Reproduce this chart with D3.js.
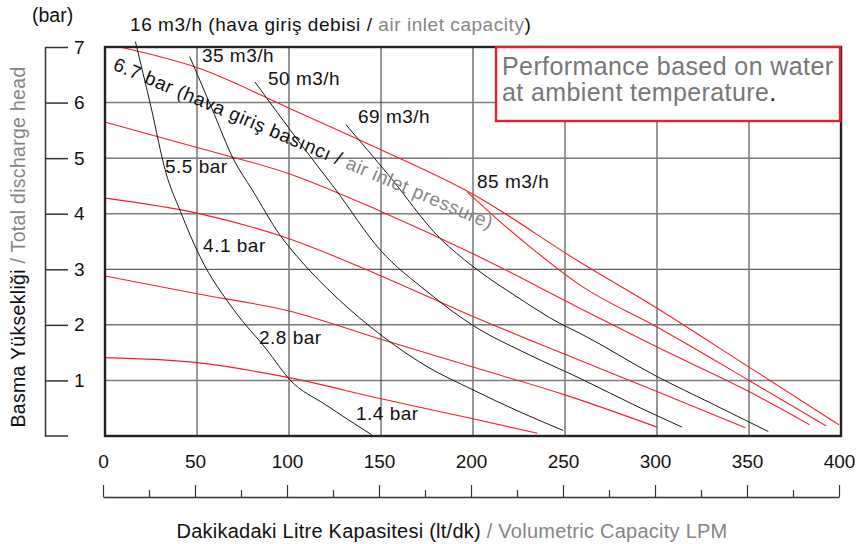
<!DOCTYPE html>
<html>
<head>
<meta charset="utf-8">
<script src="https://cdn.jsdelivr.net/npm/d3@7"></script>
<style>
  body { margin: 0; background: #fff; }
  svg { font-family: "Liberation Sans", Arial, sans-serif; }
</style>
</head>
<body>
<svg id="chart" width="860" height="544"></svg>
<script>
// axis ticks
const flowTicks = [0, 50, 100, 150, 200, 250, 300, 350, 400];
const flowMinor = [25, 75, 125, 175, 225, 275, 325, 375];
const headTicks = [0, 1, 2, 3, 4, 5, 6, 7];

// air inlet pressure curves (lpm, bar)
const p67 = [[8, 7.0], [50, 6.63], [100, 5.9], [150, 5.15], [200, 4.35], [258, 3.13], [300, 2.3], [350, 1.24], [399, 0.2]];
const p55 = [[0, 5.65], [50, 5.19], [100, 4.72], [150, 4.04], [200, 3.28], [258, 2.3], [300, 1.6], [350, 0.8], [383, 0.2]];
const p41 = [[0, 4.28], [50, 4.01], [100, 3.55], [150, 2.88], [200, 2.15], [250, 1.47], [300, 0.8], [348, 0.15]];
const p28 = [[0, 2.88], [50, 2.56], [100, 2.25], [150, 1.74], [200, 1.24], [250, 0.74], [300, 0.16]];
const p14 = [[0, 1.41], [50, 1.32], [100, 1.05], [150, 0.67], [200, 0.31], [235, 0.05]];

// air consumption curves (lpm, bar)
const a16 = [[16.5, 7.1], [25, 5.92], [33, 4.75], [41, 4.04], [51.6, 3.23], [70, 2.27], [88, 1.55], [100.5, 1.01], [120, 0.56], [145, 0.02]];
const a35 = [[46, 6.83], [58, 5.9], [70, 4.97], [80, 4.43], [95, 3.62], [106, 3.17], [125, 2.52], [151, 1.79], [175, 1.25], [200, 0.83], [225, 0.44], [249, 0.1]];
const a50 = [[81.5, 6.37], [106, 5.27], [125, 4.45], [149.5, 3.35], [175, 2.6], [199.5, 2.0], [230, 1.47], [258, 1.04], [290, 0.52], [313.6, 0.16]];
const a69 = [[131, 5.6], [154, 4.7], [182, 3.56], [200, 3.05], [225, 2.48], [247, 2.03], [258, 1.85], [300, 1.07], [330, 0.58], [360.5, 0.08]];
const a85 = [[197, 4.39], [215, 3.85], [233, 3.35], [258, 2.72], [300, 1.96], [350, 1.0], [392, 0.18]];

// label anchors (lpm, bar)
const barLabels = [["5.5 bar", 32.6, 4.73], ["4.1 bar", 53.3, 3.31], ["2.8 bar", 83.7, 1.66], ["1.4 bar", 136.4, 0.29]];
const flowLabels = [["35 m3/h", 52.7, 6.73], ["50 m3/h", 88.6, 6.31], ["69 m3/h", 137.5, 5.63], ["85 m3/h", 202.2, 4.46]];

const svg = d3.select("#chart");
const x = d3.scaleLinear().domain([0, 400]).range([105, 841]);
const y = d3.scaleLinear().domain([0, 7]).range([436, 47]);
const xb = d3.scaleLinear().domain([0, 400]).range([103, 839]);

const grey = "#7d7d7d";
const textGrey = "#858585";
const red = "#f0202a";

// grid
const darkH = [2, 3, 5];
svg.append("g").selectAll("line").data(headTicks.slice(1, 7)).enter().append("line")
  .attr("x1", x(0)).attr("x2", x(400))
  .attr("y1", d => y(d)).attr("y2", d => y(d))
  .attr("stroke", d => darkH.includes(d) ? "#333" : grey)
  .attr("stroke-width", d => darkH.includes(d) ? 1 : 1.6);
svg.append("g").selectAll("line").data(flowTicks.slice(1, 8)).enter().append("line")
  .attr("x1", d => x(d)).attr("x2", d => x(d))
  .attr("y1", y(0)).attr("y2", y(7))
  .attr("stroke", d => d == 150 ? "#333" : grey)
  .attr("stroke-width", d => d == 150 ? 1 : 1.6);

// curves
const line = d3.line().x(d => x(d[0])).y(d => y(d[1])).curve(d3.curveMonotoneX);
const curves = svg.append("g").attr("fill", "none");
[p67, p55, p41, p28, p14, a85].forEach(c => {
  curves.append("path").attr("d", line(c)).attr("stroke", red).attr("stroke-width", 1.1);
});
[a16, a35, a50, a69].forEach(c => {
  curves.append("path").attr("d", line(c)).attr("stroke", "#1a1a1a").attr("stroke-width", 1);
});

// frame
svg.append("rect")
  .attr("x", x(0)).attr("y", y(7))
  .attr("width", x(400) - x(0)).attr("height", y(0) - y(7))
  .attr("fill", "none").attr("stroke", "#222").attr("stroke-width", 2.4);

// note box
svg.append("rect")
  .attr("x", 496).attr("y", 47).attr("width", 344).attr("height", 74)
  .attr("fill", "#fff").attr("stroke", "#e3202b").attr("stroke-width", 2.4);
svg.append("text").attr("x", 502).attr("y", 75).attr("font-size", 25).attr("letter-spacing", 0.4).attr("fill", "#777")
  .text("Performance based on water");
svg.append("text").attr("x", 502).attr("y", 101).attr("font-size", 25).attr("letter-spacing", 0.4).attr("fill", "#777")
  .text("at ambient temperature")
  .append("tspan").attr("fill", "#222").text(".");

// left axis
const yAxis = svg.append("g").attr("transform", "translate(45,0)")
  .call(d3.axisRight(y).tickValues(headTicks.slice(1)).tickFormat(d3.format("d"))
    .tickSize(23).tickSizeOuter(0).tickPadding(6));
yAxis.select(".domain").attr("stroke", "#333").attr("stroke-width", 1.5);
yAxis.selectAll(".tick line").attr("stroke", "#333").attr("stroke-width", 1.5);
yAxis.append("line").attr("x1", 0).attr("x2", 23).attr("y1", y(0)).attr("y2", y(0))
  .attr("stroke", "#333").attr("stroke-width", 1.5);
yAxis.selectAll("text").attr("font-size", 19).attr("fill", "#111").attr("font-family", null);

// bottom axis
const xAxis = svg.append("g").attr("transform", "translate(0,497)")
  .call(d3.axisTop(xb).tickValues(flowTicks).tickFormat(d3.format("d")).tickSize(12).tickSizeOuter(0).tickPadding(17));
xAxis.select(".domain").attr("stroke", "#333").attr("stroke-width", 1.4);
xAxis.selectAll(".tick line").attr("stroke", "#333").attr("stroke-width", 1.2);
xAxis.selectAll("text").attr("font-size", 19).attr("fill", "#111").attr("font-family", null);
const xMinor = svg.append("g").attr("transform", "translate(0,497)")
  .call(d3.axisTop(xb).tickValues(flowMinor).tickSize(7).tickFormat(""));
xMinor.select(".domain").remove();
xMinor.selectAll(".tick line").attr("stroke", "#333").attr("stroke-width", 1.2);

// axis titles
svg.append("text").attr("x", 32).attr("y", 22).attr("font-size", 19.5).attr("fill", "#111").text("(bar)");
const yt = svg.append("text").attr("transform", "translate(25,247) rotate(-90)")
  .attr("text-anchor", "middle").attr("font-size", 19.5).attr("letter-spacing", 0.3).attr("fill", "#111");
yt.append("tspan").text("Basma Yüksekliği");
yt.append("tspan").attr("fill", textGrey).text(" / Total discharge head");

const xt = svg.append("text").attr("x", 452).attr("y", 538)
  .attr("text-anchor", "middle").attr("font-size", 20).attr("letter-spacing", 0.25).attr("fill", "#111");
xt.append("tspan").text("Dakikadaki Litre Kapasitesi (lt/dk)");
xt.append("tspan").attr("fill", textGrey).text(" / Volumetric Capacity LPM");

// curve labels
const topLabel = svg.append("text").attr("x", x(13.6)).attr("y", y(7.29))
  .attr("font-size", 19).attr("letter-spacing", 0.55).attr("fill", "#111");
topLabel.append("tspan").text("16 m3/h (hava giriş debisi / ");
topLabel.append("tspan").attr("fill", textGrey).text("air inlet capacity");
topLabel.append("tspan").text(")");

svg.append("g").selectAll("text").data(flowLabels.concat(barLabels)).enter().append("text")
  .attr("x", d => x(d[1])).attr("y", d => y(d[2]))
  .attr("font-size", 19).attr("letter-spacing", 0.5).attr("fill", "#111")
  .text(d => d[0]);

const rot = svg.append("text")
  .attr("transform", "translate(" + x(3.8) + "," + y(6.6) + ") rotate(23)")
  .attr("font-size", 19).attr("letter-spacing", 0.6).attr("fill", "#111");
rot.append("tspan").text("6.7 bar (hava giriş basıncı / ");
rot.append("tspan").attr("fill", textGrey).text("air inlet pressure)");
</script>
</body>
</html>
